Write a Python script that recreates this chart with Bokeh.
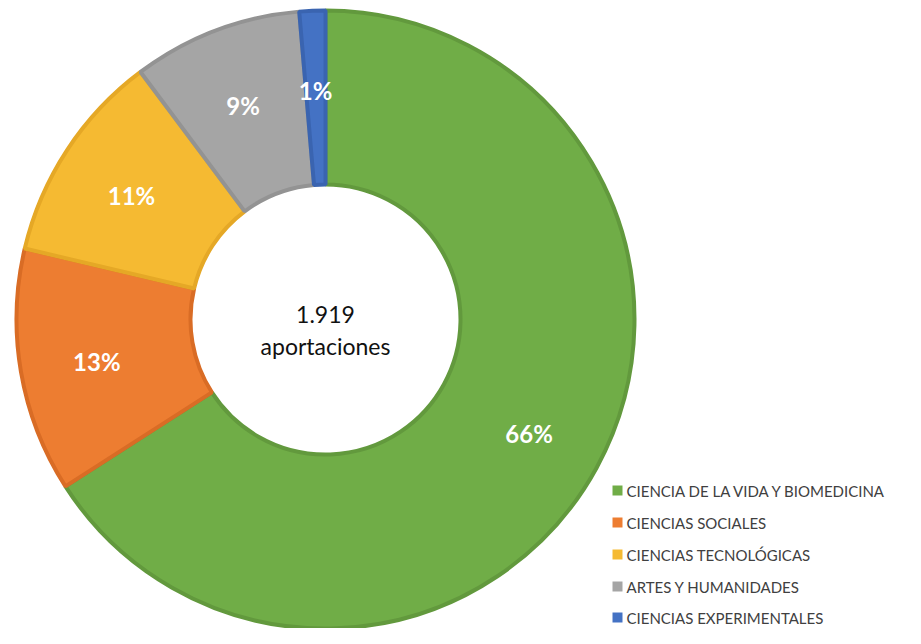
import math
from bokeh.plotting import figure
from bokeh.models import Range1d, ColumnDataSource
from bokeh.core.properties import value
from bokeh.embed import file_html
from bokeh.resources import INLINE

categories = ["CIENCIA DE LA VIDA Y BIOMEDICINA", "CIENCIAS SOCIALES",
              "CIENCIAS TECNOLÓGICAS", "ARTES Y HUMANIDADES", "CIENCIAS EXPERIMENTALES"]
counts = [1265, 245, 213, 170, 26]
pct_labels = ["66%", "13%", "11%", "9%", "1%"]
colors = ["#70AD47", "#ED7D31", "#F5BA32", "#A5A5A5", "#4472C4"]
borders = ["#62993D", "#D96C25", "#E5A826", "#939393", "#3A64B0"]
total_label = ["1.919", "aportaciones"]

W, H = 905, 628
cx, cy = 325, H - 319  # centre in data coords (y up)
r_out, r_in = 309, 135

total = sum(counts)
starts, ends, lx, ly = [], [], [], []
acc = 0.0
for c in counts:
    a0 = math.pi / 2 - 2 * math.pi * acc / total
    a1 = math.pi / 2 - 2 * math.pi * (acc + c) / total
    starts.append(a0)
    ends.append(a1)
    mid = (a0 + a1) / 2
    rl = 232
    lx.append(cx + rl * math.cos(mid))
    ly.append(cy + rl * math.sin(mid) - 3)
    acc += c

src = ColumnDataSource(dict(start=starts, end=ends, color=colors, border=borders,
                            lx=lx, ly=ly, lab=pct_labels, cat=categories))

p = figure(width=W, height=H, output_backend="svg", toolbar_location=None,
           x_range=Range1d(0, W), y_range=Range1d(0, H), min_border=0)
p.axis.visible = False
p.grid.visible = False
p.outline_line_color = None
p.background_fill_color = "white"

p.annular_wedge(x=cx, y=cy, inner_radius=r_in, outer_radius=r_out,
                start_angle="end", end_angle="start", source=src,
                fill_color="color", line_color="border", line_width=4)

p.text(x="lx", y="ly", text="lab", source=src, text_color="white",
       text_font=value("Lato"), text_font_style="bold", text_font_size="24px",
       text_align="center", text_baseline="middle")

p.text(x=[cx, cx], y=[H - 314, H - 345], text=total_label, text_color="#111111",
       text_font=value("Lato"), text_font_size="23px",
       text_align="center", text_baseline="middle")

# legend
leg_x = 617
leg_y = [H - 490, H - 522, H - 554, H - 586, H - 617]
p.scatter(x=[leg_x] * 5, y=leg_y, marker="square", size=10, fill_color=colors,
          line_color=None)
p.text(x=[leg_x + 9] * 5, y=leg_y, text=categories, text_color="#404040",
       text_font=value("Lato"), text_font_size="15px",
       text_align="left", text_baseline="middle")

open("out.html", "w").write(file_html(p, INLINE))
